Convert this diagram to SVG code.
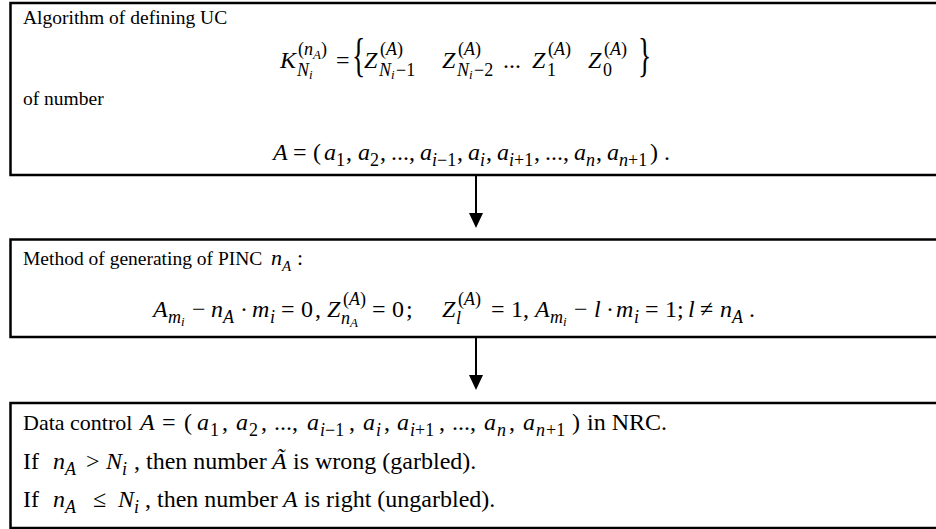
<svg xmlns="http://www.w3.org/2000/svg" width="936" height="529" viewBox="0 0 936 529">
<style>
.t{font-family:"Liberation Serif","Times New Roman",serif;font-size:24px;fill:#000}
.sm{font-size:19.5px}
.dc{font-size:22px}
.i{font-style:italic}
.s{font-size:18px}
.ss{font-size:13px}
.br{font-family:"Liberation Serif","Times New Roman",serif;font-size:46px;fill:#000}
.box{fill:#fff;stroke:#000;stroke-width:2.5}
.ln{stroke:#000;stroke-width:2;fill:none}
</style>
<rect width="936" height="529" fill="#fff"/>
<g id="box1">
<rect class="box" x="10.5" y="3" width="940" height="172"/>
<text class="t sm" x="23" y="24">Algorithm of defining UC</text>
<text class="t">
<tspan class="i" x="280" y="68">K</tspan>
<tspan class="s" x="298" y="55">(</tspan><tspan class="s i" x="304" y="55">n</tspan><tspan class="ss i" x="313" y="59">A</tspan><tspan class="s" x="321" y="55">)</tspan>
<tspan class="s i" x="297" y="76">N</tspan><tspan class="ss i" x="309" y="79">i</tspan>
<tspan x="336" y="68">=</tspan>
<tspan class="i" x="364" y="68">Z</tspan>
<tspan class="s" x="380" y="55">(</tspan><tspan class="s i" x="386" y="55">A</tspan><tspan class="s" x="397" y="55">)</tspan>
<tspan class="s i" x="379" y="76">N</tspan><tspan class="ss i" x="391" y="79">i</tspan><tspan class="s" x="396" y="76">−1</tspan>
<tspan class="i" x="442" y="68">Z</tspan>
<tspan class="s" x="458" y="55">(</tspan><tspan class="s i" x="464" y="55">A</tspan><tspan class="s" x="475" y="55">)</tspan>
<tspan class="s i" x="457" y="76">N</tspan><tspan class="ss i" x="469" y="79">i</tspan><tspan class="s" x="474" y="76">−2</tspan>
<tspan x="503" y="68">...</tspan>
<tspan class="i" x="532" y="68">Z</tspan>
<tspan class="s" x="548" y="55">(</tspan><tspan class="s i" x="554" y="55">A</tspan><tspan class="s" x="565" y="55">)</tspan>
<tspan class="s" x="547" y="76">1</tspan>
<tspan class="i" x="588" y="68">Z</tspan>
<tspan class="s" x="604" y="55">(</tspan><tspan class="s i" x="610" y="55">A</tspan><tspan class="s" x="621" y="55">)</tspan>
<tspan class="s" x="603" y="76">0</tspan>
</text>
<text class="br" transform="translate(352,71) scale(0.6,1)">{</text>
<text class="br" transform="translate(638,71) scale(0.6,1)">}</text>
<text class="t sm" x="23" y="105">of number</text>
<text class="t">
<tspan class="i" x="273" y="160">A</tspan><tspan x="293" y="160">=</tspan><tspan x="313" y="160">(</tspan>
<tspan class="i" x="324" y="160">a</tspan><tspan class="s" x="336" y="166">1</tspan><tspan x="346" y="160">,</tspan>
<tspan class="i" x="358" y="160">a</tspan><tspan class="s" x="370" y="166">2</tspan><tspan x="380" y="160">,</tspan>
<tspan x="391" y="160">...,</tspan>
<tspan class="i" x="420" y="160">a</tspan><tspan class="s i" x="432" y="166">i</tspan><tspan class="s" x="437" y="166">−1</tspan><tspan x="457" y="160">,</tspan>
<tspan class="i" x="468" y="160">a</tspan><tspan class="s i" x="480" y="166">i</tspan><tspan x="486" y="160">,</tspan>
<tspan class="i" x="497" y="160">a</tspan><tspan class="s i" x="509" y="166">i</tspan><tspan class="s" x="514" y="166">+1</tspan><tspan x="534" y="160">,</tspan>
<tspan x="545" y="160">...,</tspan>
<tspan class="i" x="574" y="160">a</tspan><tspan class="s i" x="586" y="166">n</tspan><tspan x="596" y="160">,</tspan>
<tspan class="i" x="607" y="160">a</tspan><tspan class="s i" x="619" y="166">n</tspan><tspan class="s" x="628" y="166">+1</tspan>
<tspan x="650" y="160">)</tspan><tspan x="664" y="160">.</tspan>
</text>
</g>
<g id="box2">
<rect class="box" x="10.5" y="239.5" width="940" height="97.5"/>
<text class="t"><tspan class="sm" x="23" y="265">Method of generating of PINC</tspan><tspan class="i" x="271" y="265" style="font-size:22px">n</tspan><tspan class="s i" x="282" y="271" style="font-size:15px">A</tspan><tspan x="297" y="265" style="font-size:22px">:</tspan></text>
<text class="t">
<tspan class="i" x="153" y="317">A</tspan><tspan class="s i" x="168" y="323">m</tspan><tspan class="ss i" x="181" y="326">i</tspan>
<tspan x="192" y="317">−</tspan>
<tspan class="i" x="211" y="317">n</tspan><tspan class="s i" x="223" y="323">A</tspan>
<tspan x="240" y="317">·</tspan>
<tspan class="i" x="252" y="317">m</tspan><tspan class="s i" x="270" y="323">i</tspan>
<tspan x="281" y="317">=</tspan><tspan x="301" y="317">0</tspan><tspan x="315" y="317">,</tspan>
<tspan class="i" x="327" y="317">Z</tspan>
<tspan class="s" x="343" y="305">(</tspan><tspan class="s i" x="349" y="305">A</tspan><tspan class="s" x="360" y="305">)</tspan>
<tspan class="s i" x="341" y="324">n</tspan><tspan class="ss i" x="350" y="327">A</tspan>
<tspan x="372" y="317">=</tspan><tspan x="392" y="317">0</tspan><tspan x="406" y="317">;</tspan>
<tspan class="i" x="442" y="317">Z</tspan>
<tspan class="s" x="458" y="305">(</tspan><tspan class="s i" x="464" y="305">A</tspan><tspan class="s" x="475" y="305">)</tspan>
<tspan class="s i" x="456" y="324">l</tspan>
<tspan x="491" y="317">=</tspan><tspan x="511" y="317">1,</tspan>
<tspan class="i" x="535" y="317">A</tspan><tspan class="s i" x="550" y="323">m</tspan><tspan class="ss i" x="563" y="326">i</tspan>
<tspan x="574" y="317">−</tspan>
<tspan class="i" x="594" y="317">l</tspan>
<tspan x="606" y="317">·</tspan>
<tspan class="i" x="616" y="317">m</tspan><tspan class="s i" x="634" y="323">i</tspan>
<tspan x="645" y="317">=</tspan><tspan x="665" y="317">1;</tspan>
<tspan class="i" x="688" y="317">l</tspan>
<tspan x="700" y="317">≠</tspan>
<tspan class="i" x="720" y="317">n</tspan><tspan class="s i" x="732" y="323">A</tspan>
<tspan x="749" y="317">.</tspan>
</text>
</g>
<g id="box3">
<rect class="box" x="10.5" y="403" width="940" height="125"/>
<text class="t">
<tspan class="dc" x="23" y="430">Data control</tspan>
<tspan class="i" x="140" y="430">A</tspan><tspan x="162" y="430">=</tspan><tspan x="184" y="430">(</tspan>
<tspan class="i" x="197" y="430">a</tspan><tspan class="s" x="210" y="436">1</tspan><tspan x="222" y="430">,</tspan>
<tspan class="i" x="236" y="430">a</tspan><tspan class="s" x="249" y="436">2</tspan><tspan x="261" y="430">,</tspan>
<tspan x="274" y="430">...,</tspan>
<tspan class="i" x="307" y="430">a</tspan><tspan class="s i" x="320" y="436">i</tspan><tspan class="s" x="325" y="436">−1</tspan><tspan x="349" y="430">,</tspan>
<tspan class="i" x="363" y="430">a</tspan><tspan class="s i" x="376" y="436">i</tspan><tspan x="384" y="430">,</tspan>
<tspan class="i" x="397" y="430">a</tspan><tspan class="s i" x="410" y="436">i</tspan><tspan class="s" x="415" y="436">+1</tspan><tspan x="439" y="430">,</tspan>
<tspan x="452" y="430">...,</tspan>
<tspan class="i" x="484" y="430">a</tspan><tspan class="s i" x="497" y="436">n</tspan><tspan x="509" y="430">,</tspan>
<tspan class="i" x="523" y="430">a</tspan><tspan class="s i" x="536" y="436">n</tspan><tspan class="s" x="546" y="436">+1</tspan>
<tspan x="572" y="430">)</tspan><tspan x="587" y="430">in NRC.</tspan>
</text>
<text class="t">
<tspan x="23" y="469">If</tspan>
<tspan class="i" x="53" y="469">n</tspan><tspan class="s i" x="65" y="475">A</tspan>
<tspan x="86" y="469">&gt;</tspan>
<tspan class="i" x="106" y="469">N</tspan><tspan class="s i" x="122" y="475">i</tspan>
<tspan x="134" y="469">, then number</tspan><tspan class="i" x="272" y="469">Ã</tspan><tspan x="287" y="469"> is wrong (garbled).</tspan>
</text>
<text class="t">
<tspan x="23" y="507">If</tspan>
<tspan class="i" x="53" y="507">n</tspan><tspan class="s i" x="65" y="513">A</tspan>
<tspan x="93" y="507">≤</tspan>
<tspan class="i" x="118" y="507">N</tspan><tspan class="s i" x="134" y="513">i</tspan>
<tspan x="145" y="507">, then number</tspan><tspan class="i" x="283" y="507">A</tspan><tspan x="298" y="507"> is right (ungarbled).</tspan>
</text>
</g>
<g id="connectors">
<line class="ln" x1="476" y1="176" x2="476" y2="214"/>
<polygon points="469,213 483,213 476,228" fill="#000"/>
<line class="ln" x1="476" y1="338" x2="476" y2="376"/>
<polygon points="469,375 483,375 476,390" fill="#000"/>
</g>
</svg>
